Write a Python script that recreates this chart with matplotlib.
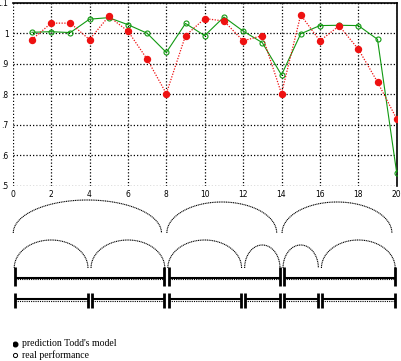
import numpy as np
import matplotlib
matplotlib.use("Agg")
import matplotlib.pyplot as plt

# values
idx = list(range(1, 21))
prediction = [0.979, 1.033, 1.033, 0.979, 1.055, 1.007, 0.915, 0.802, 0.992, 1.048,
              1.040, 0.975, 0.992, 0.802, 1.060, 0.975, 1.024, 0.948, 0.840, 0.719]
real = [1.003, 1.005, 1.002, 1.046, 1.051, 1.028, 1.000, 0.937, 1.032, 0.992,
        1.053, 1.007, 0.969, 0.863, 0.998, 1.025, 1.026, 1.025, 0.980, 0.542]
xticks = list(range(0, 21, 2))
yticks = [0.5, 0.6, 0.7, 0.8, 0.9, 1.0, 1.1]
ylabels = [".5", ".6", ".7", ".8", ".9", "1", "1.1"]

# phrase structure below the plot
level1 = [(0, 8), (8, 14), (14, 20)]
level2 = [(0, 4), (4, 8), (8, 12), (12, 14), (14, 16), (16, 20)]

RED = "#ee1111"
GREEN = "#119911"

W, H = 401, 361
fig = plt.figure(figsize=(W / 100, H / 100), dpi=100)

x0, x1 = 12.7, 396.7
ytop, ybot = 2.7, 185.7
ax = fig.add_axes([x0 / W, 1 - ybot / H, (x1 - x0) / W, (ybot - ytop) / H])
ax.set_xlim(0, 20)
ax.set_ylim(0.5, 1.1)
ax.set_xticks(xticks)
ax.set_yticks(yticks)
ax.set_yticklabels(ylabels)
ax.tick_params(length=0, labelsize=5.5, pad=3)
for s in ["left", "bottom"]:
    ax.spines[s].set_visible(False)
for s in ["top", "right"]:
    ax.spines[s].set_linewidth(1.2)
ax.grid(True, color="black", linestyle=(0, (1, 1.6)), linewidth=0.9)
ax.set_axisbelow(True)

ax.plot(idx, real, color=GREEN, linewidth=0.8, marker="o", markersize=3.6,
        markerfacecolor="none", markeredgecolor=GREEN, markeredgewidth=0.8, zorder=3)
ax.plot(idx, prediction, color=RED, linewidth=0.9, linestyle=(0, (1, 1.2)), marker="o",
        markersize=4.3, markerfacecolor=RED, markeredgecolor=RED, zorder=4)

# lower panel in pixel-y coordinates
ax2 = fig.add_axes([x0 / W, 0, (x1 - x0) / W, 1 - 190 / H])
ax2.set_xlim(0, 20)
ax2.set_ylim(H, 190)
ax2.axis("off")


def arc(a, b, base, h):
    t = np.linspace(0, np.pi, 80)
    c, r = (a + b) / 2, (b - a) / 2
    ax2.plot(c - r * np.cos(t), base - h * np.sin(t), color="black",
             linestyle=(0, (1, 0.6)), linewidth=0.8, clip_on=False)


for a, b in level1:
    arc(a + 0.03, b - 0.25, 233, 31 if b - a < 8 else 33)
for a, b in level2:
    arc(a + 0.08, b - 0.08, 268, 23 if b - a < 4 else 28)


def bars(segs, y, top, bottom):
    for a, b in segs:
        l, r = a + 0.12, b - 0.1
        ax2.plot([l, r], [y, y], color="black", linewidth=1.5, solid_capstyle="butt")
        ax2.plot([l, r], [y + 1.6, y + 1.6], color="black", linewidth=0.8,
                 linestyle=(0, (1, 1)))
        for xv in (l, r):
            ax2.plot([xv, xv], [top, bottom], color="black", linewidth=2.0,
                     solid_capstyle="butt")


bars(level1, 277.5, 267, 286)
bars(level2, 299, 292.5, 308)

# legend
ax2.plot([0.12], [343.5], "o", color="black", markersize=3.3)
ax2.plot([0.12], [355], "o", markerfacecolor="none", markeredgecolor="black",
         markersize=3.0, markeredgewidth=0.7)
ax2.text(0.5, 343.5, "prediction Todd's model", family="Liberation Serif",
         fontsize=7, va="center", ha="left")
ax2.text(0.5, 355, "real performance", family="Liberation Serif",
         fontsize=7, va="center", ha="left")

fig.savefig("out.png", dpi=100)
